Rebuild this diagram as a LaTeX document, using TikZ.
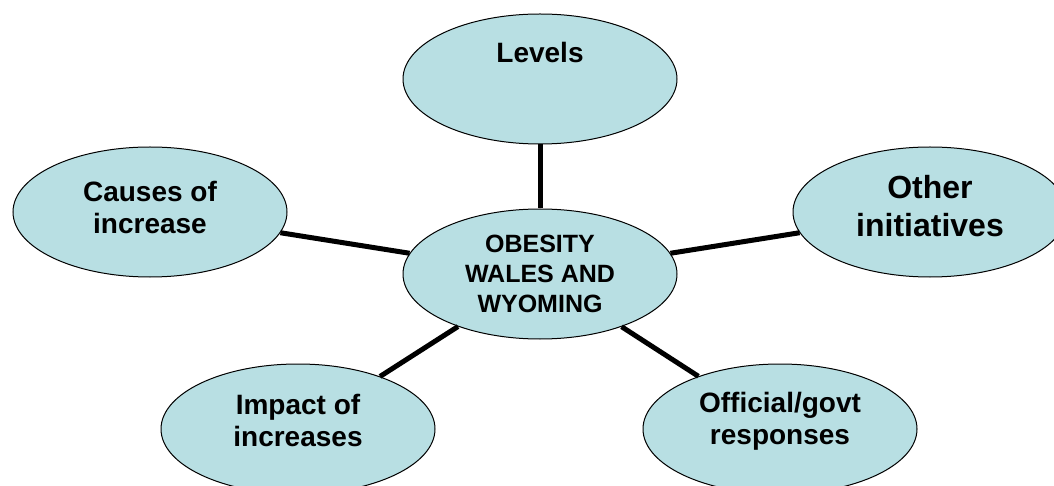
\documentclass[tikz,border=0pt]{standalone}
\usepackage{fontspec}
\setmainfont{Liberation Sans}
\usetikzlibrary{shapes.geometric}
\usepackage{xcolor}
\definecolor{bubblefill}{HTML}{B8DFE3}

\begin{document}
\begin{tikzpicture}[x=1pt,y=1pt,
      bubble/.style={ellipse,draw=black,line width=1pt,fill=bubblefill,minimum width=274pt,minimum height=130pt,
                     align=center,inner sep=0pt,font=\fontsize{28}{32}\selectfont\bfseries},
      spoke/.style={line width=5pt,black}]

    \useasboundingbox (0,0) rectangle (1054,-486);
    \clip (0,0) rectangle (1054,-486);

    \node[bubble,font=\fontsize{25}{30}\selectfont\bfseries] (hub) at (540,-274) {OBESITY\\WALES AND\\WYOMING};
    \node[bubble,text depth=54pt] (levels) at (540,-79) {Levels};
    \node[bubble,text depth=10pt] (causes) at (150,-212) {Causes of\\increase};
    \node[bubble,text depth=12pt,font=\fontsize{32}{38}\selectfont\bfseries] (other) at (930,-212) {Other\\initiatives};
    \node[bubble,text depth=18pt] (impact) at (298,-429) {Impact of\\increases};
    \node[bubble,text depth=22pt] (govt) at (780,-429) {Official/govt\\responses};

    \draw[spoke] (hub) -- (levels);
    \draw[spoke] (hub) -- (causes);
    \draw[spoke] (hub) -- (other);
    \draw[spoke] (hub) -- (impact);
    \draw[spoke] (hub) -- (govt);
\end{tikzpicture}
\end{document}
